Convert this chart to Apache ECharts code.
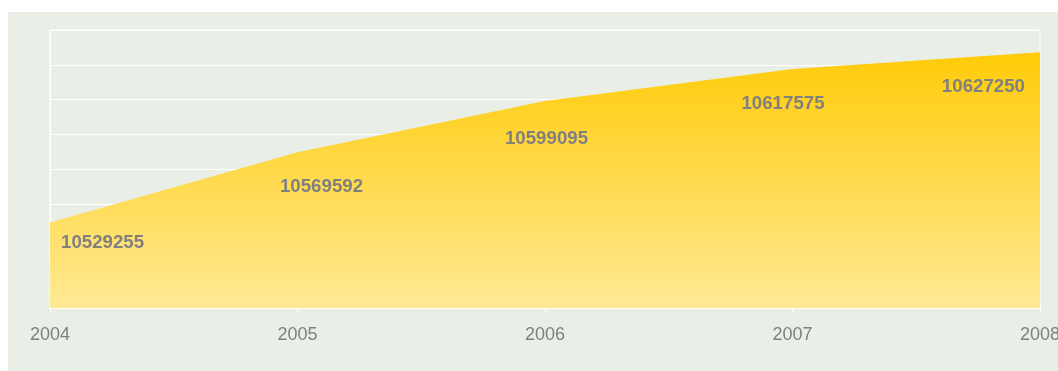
<!DOCTYPE html>
<html>
<head>
<meta charset="utf-8">
<script src="https://cdn.jsdelivr.net/npm/echarts@6/dist/echarts.min.js"></script>
<style>
  html, body { margin: 0; padding: 0; background: #ffffff; overflow: hidden; }
  #panel { position: absolute; left: 8px; top: 12px; width: 1050px; height: 359px; }
</style>
</head>
<body>
<div id="panel"></div>
<script>
// Population by year
const years = ['2004', '2005', '2006', '2007', '2008'];
const population = [10529255, 10569592, 10599095, 10617575, 10627250];

// Value label placement relative to each point: [dx, dy, align]
const labelPlacement = [
  [11, 20, 'left'],
  [24, 35, 'center'],
  [1.5, 37.5, 'center'],
  [-9.5, 34.5, 'center'],
  [-15, 35, 'right']
];

const chart = echarts.init(document.getElementById('panel'), null, { renderer: 'canvas' });

const seriesData = population.map((v, i) => ({
  value: v,
  label: {
    offset: [labelPlacement[i][0], labelPlacement[i][1]],
    align: labelPlacement[i][2]
  }
}));

chart.setOption({
  backgroundColor: '#e9efe6',
  animation: false,
  grid: {
    left: 42, right: 18, top: 18, bottom: 63,
    outerBoundsMode: 'none',
    containLabel: false,
    show: true, borderColor: '#ffffff', borderWidth: 1,
    backgroundColor: 'transparent'
  },
  xAxis: {
    type: 'category',
    data: years,
    boundaryGap: false,
    axisLine: { lineStyle: { color: '#ffffff', width: 2 } },
    axisTick: { show: true, length: 5, lineStyle: { color: '#ffffff', width: 1 } },
    axisLabel: {
      color: '#808080', fontSize: 18, fontFamily: 'Liberation Sans, Arial, sans-serif',
      margin: 18
    },
    splitLine: { show: false }
  },
  yAxis: {
    type: 'value',
    min: 10480000,
    max: 10640000,
    interval: 20000,
    axisLine: { show: true, lineStyle: { color: '#ffffff', width: 1 } },
    axisTick: { show: false },
    axisLabel: { show: false },
    splitLine: { lineStyle: { color: '#ffffff', width: 1 } }
  },
  series: [{
    type: 'line',
    data: seriesData,
    symbol: 'circle',
    symbolSize: 1,
    showSymbol: true,
    itemStyle: { color: 'rgba(0,0,0,0)' },
    lineStyle: { width: 0, color: 'rgba(0,0,0,0)' },
    z: 1,
    areaStyle: {
      opacity: 1,
      color: new echarts.graphic.LinearGradient(0, 0, 0, 1, [
        { offset: 0, color: '#ffcb08' },
        { offset: 1, color: '#ffe994' }
      ])
    },
    label: {
      show: true,
      position: 'inside',
      verticalAlign: 'middle',
      color: '#808080',
      fontSize: 18.7,
      fontWeight: 'bold',
      fontFamily: 'Liberation Sans, Arial, sans-serif'
    }
  }]
});
</script>
</body>
</html>
